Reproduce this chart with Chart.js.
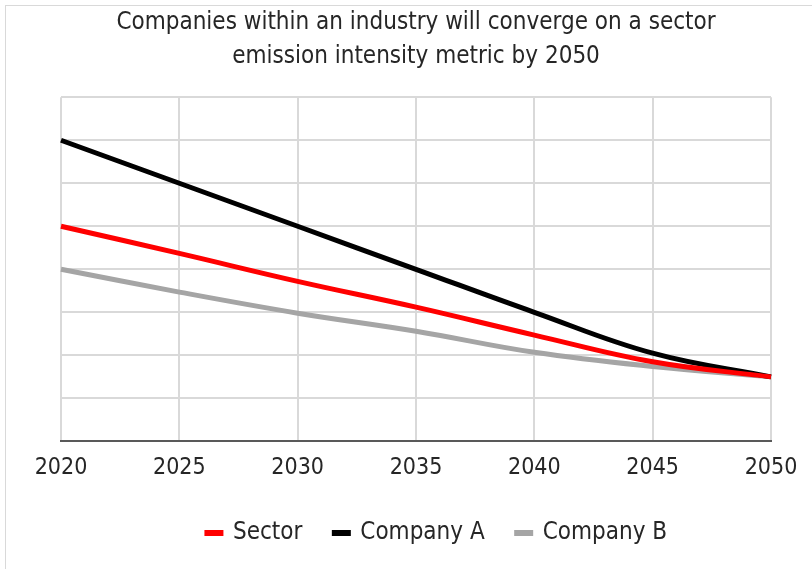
<!DOCTYPE html>
<html>
<head>
<meta charset="utf-8">
<script src="https://cdn.jsdelivr.net/npm/chart.js@4/dist/chart.umd.min.js"></script>
<style>
  html, body { margin: 0; padding: 0; background: #fff; }
  #cadre { position: absolute; left: 5px; top: 5px; width: 820px; height: 580px; border: 1px solid #d9d9d9; }
  #zone { position: absolute; left: 0; top: 0; width: 812px; height: 569px; }
</style>
</head>
<body>
<div id="cadre"></div>
<div id="zone"><canvas id="graphe"></canvas></div>
<script>
// Années et trajectoires d'intensité (unités arbitraires, axe sans libellés)
const annees = ["2020", "2025", "2030", "2035", "2040", "2045", "2050"];
const secteur = [5.0, 4.37, 3.72, 3.12, 2.47, 1.85, 1.5];
const entrepriseA = [7.0, 6.0, 5.0, 4.0, 3.0, 2.05, 1.5];
const entrepriseB = [4.0, 3.47, 2.98, 2.56, 2.07, 1.74, 1.5];
const titre = ["Companies within an industry will converge on a sector", "emission intensity metric by 2050"];

const police = "'DejaVu Sans Condensed', 'Liberation Sans Narrow', sans-serif";

function serie(label, data, couleur) {
  return {
    label,
    data,
    borderColor: couleur,
    backgroundColor: couleur,
    borderWidth: 5,
    pointRadius: 0,
    tension: 0.4,
    fill: false,
  };
}

// la légende d'origine est un peu décalée vers la droite
const decalageLegende = {
  id: "decalageLegende",
  afterUpdate(chart) {
    chart.legend.left += 21;
    chart.legend.right += 21;
  },
};

new Chart(document.getElementById("graphe"), {
  type: "line",
  data: {
    labels: annees,
    datasets: [
      serie("Sector", secteur, "#ff0000"),
      serie("Company A", entrepriseA, "#000000"),
      serie("Company B", entrepriseB, "#a5a5a5"),
    ],
  },
  plugins: [decalageLegende],
  options: {
    responsive: true,
    maintainAspectRatio: false,
    animation: false,
    layout: { padding: { left: 61, right: 41, top: 6, bottom: 14 } },
    plugins: {
      title: {
        display: true,
        text: titre,
        color: "#262626",
        font: { family: police, size: 24, weight: "normal", lineHeight: 1.4 },
        padding: { top: 0, bottom: 24 },
      },
      legend: {
        position: "bottom",
        labels: {
          color: "#262626",
          font: { family: police, size: 24 },
          boxWidth: 14,
          boxHeight: 1,
          padding: 32,
        },
      },
      tooltip: { enabled: false },
    },
    scales: {
      x: {
        offset: false,
        grid: { color: "#d9d9d9", lineWidth: 2, drawTicks: false },
        border: { display: true, color: "#595959", width: 2 },
        ticks: { color: "#262626", font: { family: police, size: 23 }, padding: 13, maxRotation: 0 },
        afterFit: (axe) => { axe.height -= 6; },
      },
      y: {
        min: 0,
        max: 8,
        ticks: { display: false, stepSize: 1 },
        grid: { color: "#d9d9d9", lineWidth: 2, drawTicks: false },
        border: { display: false },
      },
    },
  },
});
</script>
</body>
</html>
